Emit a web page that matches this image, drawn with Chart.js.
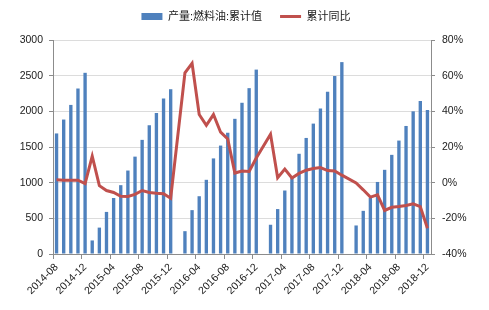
<!DOCTYPE html>
<html>
<head>
<meta charset="utf-8">
<script src="https://cdn.jsdelivr.net/npm/chart.js@4/dist/chart.umd.min.js"></script>
<style>
  html, body { margin: 0; padding: 0; background: #fff; }
  #wrap { width: 489px; height: 310px; }
</style>
</head>
<body>
<div id="wrap"><canvas id="chart" width="489" height="310"></canvas></div>
<script>
const months = [
    '2014-08', '2014-09', '2014-10', '2014-11', '2014-12',
    '2015-01', '2015-02', '2015-03', '2015-04', '2015-05', '2015-06', '2015-07', '2015-08', '2015-09', '2015-10', '2015-11', '2015-12',
    '2016-01', '2016-02', '2016-03', '2016-04', '2016-05', '2016-06', '2016-07', '2016-08', '2016-09', '2016-10', '2016-11', '2016-12',
    '2017-01', '2017-02', '2017-03', '2017-04', '2017-05', '2017-06', '2017-07', '2017-08', '2017-09', '2017-10', '2017-11', '2017-12',
    '2018-01', '2018-02', '2018-03', '2018-04', '2018-05', '2018-06', '2018-07', '2018-08', '2018-09', '2018-10', '2018-11', '2018-12'
];

// 产量:燃料油:累计值
const output = [
    1690, 1885, 2090, 2320, 2540,
    190, 370, 590, 785, 965, 1170, 1365, 1600, 1805, 1975, 2180, 2310,
    null, 320, 615, 810, 1040, 1340, 1520, 1700, 1895, 2120, 2325, 2585,
    null, 410, 630, 890, 1065, 1405, 1627, 1828, 2040, 2275, 2495, 2690,
    null, 400, 605, 785, 1010, 1180, 1390, 1590, 1795, 2000, 2145, 2020
];

// 累计同比 (%)
const yoy = [
    1.6, 1.4, 1.3, 1.4, -0.5,
    14.9, -1.7, -4.4, -5.5, -7.6, -7.7, -6.6, -4.4, -5.5, -5.9, -6.2, -8.7,
    null, 61.6, 66.9, 38.2, 32.2, 38.2, 28.3, 24.5, 5.4, 6.5, 6.3, 13.8,
    null, 27.1, 2.8, 7.6, 2.6, 5.2, 7.0, 7.9, 8.5, 6.8, 6.6, 4.2,
    null, -0.2, -4.0, -8.1, -6.8, -15.6, -13.8, -13.4, -12.8, -11.9, -13.4, -25.6
];

const leftTicks = { min: 0, max: 3000, step: 500 };
const rightTicks = { min: -40, max: 80, step: 20 };

const BLUE = '#4F81BD';
const RED = '#C0504D';
const AXIS = '#8C8C8C';
const GRID = '#DCDCDC';
const FONT = '"Liberation Sans", Arial, "Noto Sans CJK SC", sans-serif';

Chart.defaults.font.family = FONT;
Chart.defaults.color = '#1a1a1a';

// legend takes 40px on top, its row sits a bit higher than chart.js would put it
const legendBox = {
    id: 'legendBox',
    beforeInit(chart) {
        const fit = chart.legend.fit;
        chart.legend.fit = function () {
            fit.bind(chart.legend)();
            this.height = 40;
        };
    },
    afterLayout(chart) {
        chart.legend.top = -7;
        chart.legend.left += 3;
    }
};

const ctx = document.getElementById('chart').getContext('2d');
new Chart(ctx, {
    type: 'bar',
    data: {
        labels: months,
        datasets: [
            {
                type: 'bar',
                label: '产量:燃料油:累计值',
                data: output,
                backgroundColor: BLUE,
                borderWidth: 0,
                barPercentage: 0.47,
                categoryPercentage: 1,
                yAxisID: 'y',
                order: 2
            },
            {
                type: 'line',
                label: '累计同比',
                data: yoy,
                borderColor: RED,
                backgroundColor: RED,
                borderWidth: 3,
                pointRadius: 0,
                tension: 0,
                spanGaps: true,
                yAxisID: 'y1',
                order: 1
            }
        ]
    },
    options: {
        responsive: false,
        animation: false,
        layout: { padding: 0 },
        plugins: {
            legend: {
                position: 'top',
                labels: {
                    usePointStyle: true,
                    pointStyleWidth: 21,
                    boxHeight: 7,
                    padding: 18,
                    font: { size: 11 },
                    color: '#1a1a1a',
                    sort: (a, b) => a.datasetIndex - b.datasetIndex,
                    generateLabels(chart) {
                        const items = Chart.defaults.plugins.legend.labels.generateLabels(chart);
                        items.forEach(it => {
                            if (it.datasetIndex === 0) {
                                it.pointStyle = 'rect';
                                it.lineWidth = 0;
                                it.fillStyle = BLUE;
                            } else {
                                it.pointStyle = 'line';
                                it.lineWidth = 3;
                                it.strokeStyle = RED;
                            }
                        });
                        return items;
                    }
                }
            },
            tooltip: { enabled: false }
        },
        scales: {
            x: {
                offset: true,
                grid: {
                    offset: true,
                    drawOnChartArea: false,
                    drawTicks: true,
                    tickLength: 5,
                    color: c => (c.index % 4 === 0 ? AXIS : 'rgba(0,0,0,0)')
                },
                border: { display: true, color: AXIS },
                ticks: {
                    autoSkip: false,
                    minRotation: 45,
                    maxRotation: 45,
                    padding: 2,
                    font: { size: 10.5 },
                    callback: (v, i) => (i % 4 === 0 ? months[i] : '')
                },
                afterFit(scale) { scale.height = 56; }
            },
            y: {
                position: 'left',
                min: leftTicks.min,
                max: leftTicks.max,
                ticks: {
                    stepSize: leftTicks.step,
                    padding: 6,
                    font: { size: 10.5 },
                    callback: v => String(v)
                },
                grid: { color: GRID, tickColor: AXIS, tickLength: 4 },
                border: { display: true, color: AXIS },
                afterFit(scale) { scale.width = 53; }
            },
            y1: {
                position: 'right',
                min: rightTicks.min,
                max: rightTicks.max,
                ticks: {
                    stepSize: rightTicks.step,
                    padding: 7,
                    font: { size: 10.5 },
                    callback: v => v + '%'
                },
                grid: { drawOnChartArea: false, tickColor: AXIS, tickLength: 4 },
                border: { display: true, color: AXIS },
                afterFit(scale) { scale.width = 58; }
            }
        }
    },
    plugins: [legendBox]
});
</script>
</body>
</html>
